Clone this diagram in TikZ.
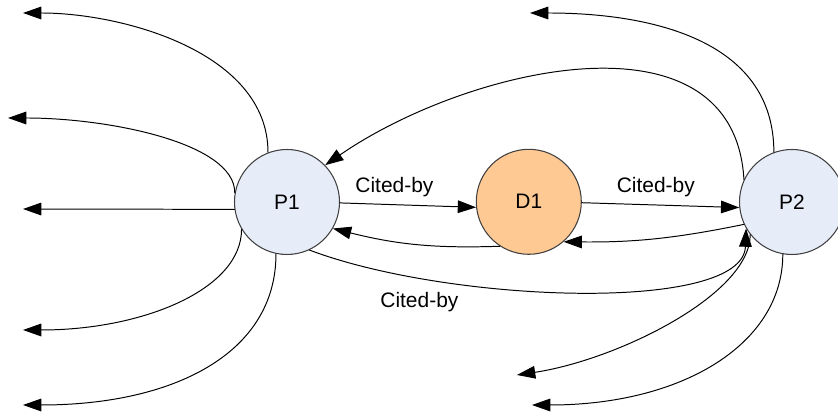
\documentclass[tikz,border=0pt]{standalone}
\usepackage{fontspec}
\setmainfont{Liberation Sans}
\usetikzlibrary{arrows.meta}

\definecolor{paperfill}{RGB}{230,236,248}
\definecolor{docfill}{RGB}{255,201,148}

\begin{document}
\begin{tikzpicture}[
        line cap=round,
        line join=round,
        font=\fontsize{14.9}{17}\selectfont,
        paper/.style={circle, draw=black!75, line width=0.75pt, fill=paperfill, minimum size=2.625cm, inner sep=0pt},
        doc/.style={paper, fill=docfill},
        cite/.style={line width=0.7pt, -{Triangle[length=13pt,width=9pt]}},
        lbl/.style={inner sep=3.33pt}
    ]
        \path[use as bounding box, clip] (0,0) rectangle (20.95,10.375);

        % i tre nodi
        \node[paper] (P1) at (7.175,5.325) {P1};
        \node[doc]   (D1) at (13.22,5.33) {D1};
        \node[paper] (P2) at (19.8,5.325) {P2};

        % estremi liberi a sinistra
        \coordinate (l1) at (0.575,10.05);
        \coordinate (l2) at (0.2,7.425);
        \coordinate (l3) at (0.575,5.15);
        \coordinate (l4) at (0.575,2.125);
        \coordinate (l5) at (0.575,0.25);

        % estremi liberi a destra
        \coordinate (r1) at (13.25,10.05);
        \coordinate (r2) at (12.925,1.0);
        \coordinate (r3) at (13.3,0.25);

        % archi uscenti da P1
        \draw[cite] (P1.111) .. controls +(0,2.5) and +(2.5,0) .. (l1);
        \draw[cite] (P1.170) .. controls +(0,1.25) and +(2.5,0) .. (l2);
        \draw[cite] (P1.188) -- (l3);
        \draw[cite] (P1.211) .. controls +(0,-1.5) and +(3,0) .. (l4);
        \draw[cite] (P1.258) .. controls +(0,-2.5) and +(3.75,0) .. (l5);

        % archi uscenti da P2
        \draw[cite] (P2.110) .. controls +(0,2.875) and +(2.875,0) .. (r1);
        \draw[cite] (P2.218) .. controls +(0,-1.5) and +(2.5,0.375) .. (r2);
        \draw[cite] (P2.260) .. controls +(0,-2.25) and +(3.75,0) .. (r3);

        % citazioni tra i nodi
        \draw[cite] (P2.155) .. controls +(-0.25,4.375) and +(3.55,2.45) .. (P1.44);
        \draw[cite] (P1.-1) -- node[lbl, pos=0.4, above=1.8pt] (c1) {Cited-by} (D1.186);
        \draw[cite] (D1.-1) -- node[lbl, pos=0.47, above=1.8pt] (c2) {Cited-by} (P2.186);
        \draw[cite] (P2.205) to[bend left=6] (D1.311);
        \draw[cite] (D1.237) to[bend left=8] (P1.330);
        \draw[cite] (P1.295) .. controls +(3.5,-1.325) and +(-0.075,-2.125) .. node[lbl, pos=0.22, below=6pt] (c3) {Cited-by} (P2.210);
    \end{tikzpicture}
\end{document}
